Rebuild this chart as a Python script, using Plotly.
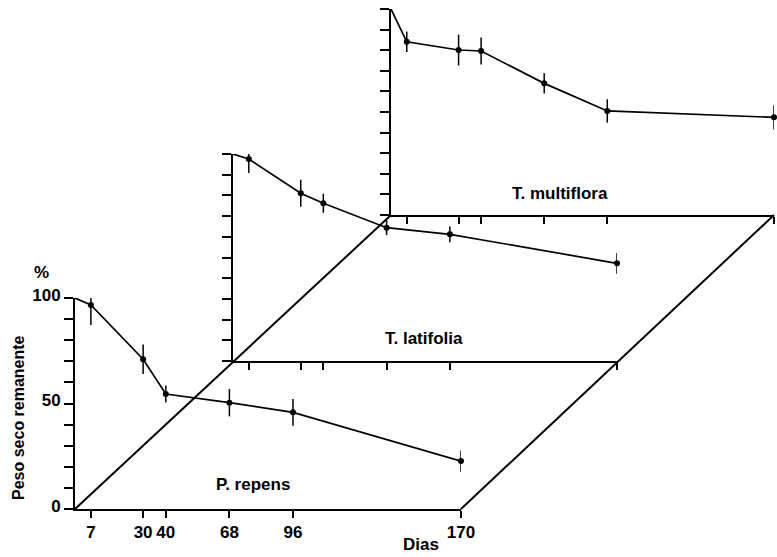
import plotly.graph_objects as go

W, H = 777, 557

days = [7, 30, 40, 68, 96, 170]
tick_labels = ["7", "30", "40", "68", "96", "170"]
start_day = 0
start_value = 100

repens_values = [96.7, 71.0, 54.5, 50.4, 45.8, 22.7]
repens_err = [9.5, 7.0, 4.0, 6.5, 6.3, 5.0]

latifolia_values = [97.6, 81.0, 76.2, 64.4, 61.2, 47.2]
latifolia_err = [6.8, 6.5, 4.6, 3.6, 3.8, 5.0]

multiflora_values = [84.1, 80.1, 79.6, 63.9, 50.5, 47.4]
multiflora_err = [5.0, 7.5, 6.6, 4.9, 5.7, 5.9]

names = ["P. repens", "T. latifolia", "T. multiflora"]
series = [repens_values, latifolia_values, multiflora_values]
errors = [repens_err, latifolia_err, multiflora_err]

# panel layout in pixels: (x0, x1, y_bottom, y_top)
panels = [(75, 461, 509, 298), (233, 617, 361, 154), (391, 774, 215, 9)]

FONT = "Liberation Sans, Arial, sans-serif"

def px(x):
    return x / W

def py(y):
    return 1 - y / H

fig = go.Figure()
layout = dict(width=W, height=H, margin=dict(l=0, r=0, t=0, b=0, autoexpand=False),
              paper_bgcolor="white", plot_bgcolor="rgba(0,0,0,0)",
              showlegend=False, font=dict(family=FONT, color="black"))

for i, (vals, errs, (x0, x1, yb, yt)) in enumerate(zip(series, errors, panels)):
    sfx = "" if i == 0 else str(i + 1)
    xa, ya = "x" + sfx, "y" + sfx
    fig.add_trace(go.Scatter(x=[start_day] + days, y=[start_value] + vals, mode="lines",
                             line=dict(color="black", width=1.7), xaxis=xa, yaxis=ya,
                             hoverinfo="skip", cliponaxis=False))
    fig.add_trace(go.Scatter(x=days, y=vals, mode="markers",
                             marker=dict(color="black", size=6),
                             error_y=dict(type="data", array=errs, color="black",
                                          thickness=1.5, width=0),
                             xaxis=xa, yaxis=ya, cliponaxis=False))
    front = i == 0
    layout["xaxis" + sfx] = dict(
        domain=[px(x0), px(x1)], range=[0, 170], anchor=ya, automargin=False,
        showgrid=False, zeroline=False, showline=True, linecolor="black", linewidth=2,
        ticks="outside", ticklen=7, tickwidth=2, tickcolor="black", tickangle=0,
        tickvals=days, ticktext=tick_labels, showticklabels=front,
        tickfont=dict(size=17, family=FONT, weight="bold"))
    layout["yaxis" + sfx] = dict(
        domain=[py(yb), py(yt)], range=[0, 100], anchor=xa, automargin=False,
        showgrid=False, zeroline=False, showline=True, linecolor="black", linewidth=2,
        ticks="outside", ticklen=9, tickwidth=2, tickcolor="black",
        tickvals=list(range(0, 101, 10)), ticklabelshift=-3,
        ticktext=[str(v) if v in (0, 50, 100) else "" for v in range(0, 101, 10)],
        showticklabels=front, tickfont=dict(size=17, family=FONT, weight="bold"))

fig.update_layout(**layout)

# base plane diagonals
(fx0, fx1, fyb, _), _, (bx0, bx1, byb, _) = panels
for (a, b) in [((fx0, fyb), (bx0, byb)), ((fx1, fyb), (bx1, byb))]:
    fig.add_shape(type="line", xref="paper", yref="paper",
                  x0=px(a[0]), y0=py(a[1]), x1=px(b[0]), y1=py(b[1]),
                  line=dict(color="black", width=2))

def label(text, x, y, size=17, angle=0):
    fig.add_annotation(x=px(x), y=py(y), xref="paper", yref="paper", text=text,
                       xanchor="center", yanchor="middle", textangle=angle,
                       showarrow=False, font=dict(size=size, family=FONT, weight="bold"))

label_pos = [(253, 484), (424, 338), (560, 193)]
for name, (lx, ly) in zip(names, label_pos):
    label(name, lx, ly)

label("%", 41, 272)
label("Dias", 421, 544)
label("Peso seco remanente", 18, 418, size=16, angle=-90)

fig.write_html("out.html", config={"displayModeBar": False},
               post_script="document.body.style.margin='0px';")
